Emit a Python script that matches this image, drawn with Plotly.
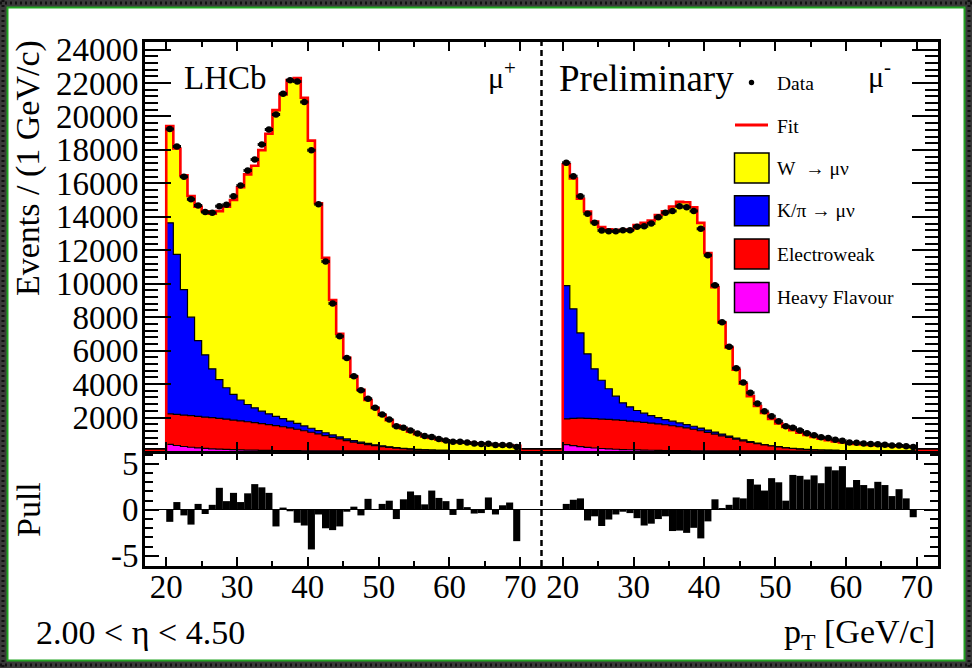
import plotly.graph_objects as go

# ---------------- data (1 GeV bins from 20 to 70 GeV/c) ----------------
bin_low = list(range(20, 70))
right_shift = 56  # right (mu-) panel drawn on the same axis, shifted

# mu+ panel
data_plus = [19250, 18200, 16400, 15050, 14680, 14280, 14250, 14630, 14720, 15230,
             15870, 16770, 17420, 18320, 19220, 20120, 21350, 22160, 22090, 20870,
             17980, 14750, 11330, 8820, 6860, 5560, 4470, 3630, 3120, 2580,
             2180, 1880, 1480, 1390, 1230, 1050, 890, 840, 724, 623,
             547, 552, 502, 454, 425, 429, 365, 359, 339, 246]
fit_plus = [19430, 18085, 16477, 15247, 14601, 14334, 14185, 14340, 14605, 15002,
            15763, 16537, 17050, 17989, 18964, 20375, 21313, 22182, 22298, 21116,
            18557, 14811, 11543, 9027, 7009, 5575, 4447, 3666, 3053, 2575,
            2150, 1837, 1518, 1347, 1160, 998, 872, 780, 690, 600,
            560, 525, 495, 462, 432, 402, 375, 350, 325, 305]
kpi_top_plus = [13640, 11750, 9650, 8000, 6600, 5750, 4910, 4270, 3780, 3380,
                3050, 2780, 2580, 2380, 2220, 2070, 1930, 1790, 1650, 1500,
                1360, 1220, 1090, 960, 840, 720, 620, 530, 450, 375,
                310, 250, 200, 160, 125, 97, 75, 58, 46, 36,
                28, 22, 17, 14, 11, 9, 7, 5, 4, 3]
ew_top_plus = [2220, 2190, 2150, 2110, 2070, 2030, 1990, 1950, 1900, 1850,
               1800, 1750, 1700, 1640, 1580, 1520, 1450, 1380, 1300, 1210,
               1120, 1020, 920, 820, 720, 620, 530, 450, 380, 320,
               265, 215, 175, 140, 110, 85, 65, 50, 40, 32,
               25, 20, 16, 13, 10, 8, 6, 5, 4, 3]
hf_plus = [400, 330, 270, 225, 185, 155, 130, 110, 92, 78,
           66, 56, 48, 41, 35, 30, 26, 22, 19, 16,
           14, 12, 10, 9, 8, 7, 6, 5, 4, 4,
           3, 3, 3, 2, 2, 2, 2, 2, 1, 1,
           1, 1, 1, 1, 1, 1, 1, 1, 1, 1]
pull_plus = [-1.3, 0.85, -0.6, -1.6, 0.65, -0.45, 0.55, 2.4, 0.95, 1.85,
             0.85, 1.8, 2.8, 2.45, 1.85, -1.8, 0.25, -0.15, -1.4, -1.7,
             -4.3, -0.5, -2.0, -2.2, -1.8, -0.2, 0.35, -0.6, 1.2, 0.1,
             0.65, 1.0, -1.0, 1.15, 2.0, 1.6, 0.6, 2.1, 1.3, 0.95,
             -0.55, 1.2, 0.3, -0.4, -0.35, 1.35, -0.5, 0.5, 0.8, -3.4]

# mu- panel
data_minus = [17230, 16430, 15230, 14180, 13640, 13180, 13140, 13140, 13200, 13200,
              13400, 13440, 13600, 13980, 14240, 14340, 14630, 14570, 14340, 13280,
              11700, 9910, 7700, 6230, 4950, 4100, 3480, 2840, 2380, 2080,
              1780, 1480, 1390, 1230, 1062, 949, 819, 770, 678, 612,
              513, 492, 449, 413, 402, 370, 328, 323, 291, 243]
fit_minus = [17145, 16289, 15076, 14317, 13722, 13381, 13260, 13197, 13223, 13240,
             13504, 13637, 13775, 14098, 14324, 14615, 14902, 14872, 14573, 13637,
             11835, 9796, 7682, 6187, 4855, 4020, 3282, 2693, 2278, 1923,
             1653, 1442, 1248, 1100, 960, 840, 740, 650, 575, 505,
             460, 425, 395, 368, 345, 322, 302, 285, 270, 256]
kpi_top_minus = [9890, 8500, 7060, 5810, 4910, 4230, 3720, 3280, 2880, 2640,
                 2420, 2260, 2120, 2000, 1880, 1780, 1680, 1580, 1480, 1370,
                 1250, 1130, 1010, 890, 770, 660, 560, 470, 390, 315,
                 258, 205, 162, 125, 98, 76, 60, 47, 37, 29,
                 23, 18, 14, 11, 9, 7, 5, 4, 3, 2]
ew_top_minus = [1920, 1950, 1970, 1950, 1930, 1910, 1890, 1860, 1830, 1790,
                1750, 1710, 1670, 1620, 1570, 1510, 1450, 1380, 1300, 1210,
                1110, 1010, 910, 810, 710, 610, 520, 440, 370, 300,
                240, 190, 150, 115, 90, 70, 55, 43, 34, 27,
                21, 17, 13, 10, 8, 6, 5, 4, 3, 2]
hf_minus = [380, 320, 265, 220, 180, 150, 125, 105, 88, 74,
            62, 52, 44, 37, 31, 26, 22, 18, 15, 12,
            10, 8, 7, 6, 5, 4, 3, 3, 2, 2,
            2, 2, 1, 1, 1, 1, 1, 1, 1, 1,
            1, 1, 1, 1, 1, 1, 1, 1, 1, 1]
pull_minus = [0.65, 1.1, 1.25, -1.15, -0.7, -1.75, -1.05, -0.5, -0.2, -0.35,
              -0.9, -1.7, -1.5, -1.0, -0.7, -2.3, -2.25, -2.5, -1.95, -3.1,
              -1.25, 1.15, 0.2, 0.55, 1.35, 1.25, 3.35, 2.75, 2.1, 3.45,
              3.0, 1.0, 3.8, 3.7, 3.3, 3.75, 2.9, 4.7, 4.3, 4.75,
              2.45, 3.25, 2.7, 2.35, 3.05, 2.7, 1.5, 2.25, 1.25, -0.8]

x_tick_labels = ["20", "30", "40", "50", "60", "70"]
y_main_ticks = [2000, 4000, 6000, 8000, 10000, 12000, 14000, 16000, 18000, 20000, 22000, 24000]
y_main_labels = [str(v) for v in y_main_ticks]
y_pull_ticks = [-5, 0, 5]
y_pull_labels = ["-5", "0", "5"]

# ---------------- colours / style ----------------
C_W, C_K, C_EW, C_HF = "#ffff00", "#0000ff", "#ff0000", "#ff00ff"
FONT = "Liberation Serif"

# plot-area pixel geometry
PL, PR, PT, PB = 145, 938, 42, 566
PW, PH = PR - PL, PB - PT
def px(x):
    return (x - PL) / PW
def py(y):
    return (PB - y) / PH
split = py(451)

fig = go.Figure()

def fill_step(vals, shift):
    xs = [20 + shift] + [b + shift for b in bin_low] + [70 + shift]
    ys = [0] + list(vals) + [0]
    return xs, ys

def fit_step(vals, shift):
    xs = [17 + shift] + [b + shift for b in bin_low] + [70 + shift, 73 + shift]
    ys = [0] + list(vals) + [0, 0]
    return xs, ys

panels = [
    (0, data_plus, fit_plus, kpi_top_plus, ew_top_plus, hf_plus, pull_plus),
    (right_shift, data_minus, fit_minus, kpi_top_minus, ew_top_minus, hf_minus, pull_minus),
]

for shift, dat, fit, kpi, ew, hf, pull in panels:
    for vals, col in [(fit, C_W), (kpi, C_K), (ew, C_EW), (hf, C_HF)]:
        xs, ys = fill_step(vals, shift)
        fig.add_trace(go.Scatter(x=xs, y=ys, mode="lines", line=dict(shape="hv", color="black", width=1.2),
                                 fill="tozeroy", fillcolor=col, xaxis="x2", yaxis="y", hoverinfo="skip"))
    xs, ys = fit_step(fit, shift)
    fig.add_trace(go.Scatter(x=xs, y=ys, mode="lines", line=dict(shape="hv", color="#ff0000", width=2.6),
                             xaxis="x2", yaxis="y", hoverinfo="skip"))
    centers = [b + 0.5 + shift for b in bin_low]
    fig.add_trace(go.Scatter(x=centers, y=dat, mode="markers",
                             marker=dict(size=6.5, color="black"),
                             error_x=dict(type="constant", value=0.5, color="black", thickness=1.2, width=1.5),
                             error_y=dict(type="sqrt", color="black", thickness=1.2, width=0),
                             xaxis="x2", yaxis="y", hoverinfo="skip"))
    fig.add_trace(go.Bar(x=centers, y=pull, width=1, marker=dict(color="black", line=dict(width=0)),
                         xaxis="x", yaxis="y2", hoverinfo="skip"))

x_major = [v for v in (20, 30, 40, 50, 60, 70)] + [v + right_shift for v in (20, 30, 40, 50, 60, 70)]
x_minor = [v for v in (25, 35, 45, 55, 65)] + [v + right_shift for v in (25, 35, 45, 55, 65)]
x_text = x_tick_labels + x_tick_labels

axis_common = dict(showline=True, linecolor="black", linewidth=3, mirror="ticks", ticks="inside",
                   tickcolor="black", tickwidth=2, showgrid=False, zeroline=False,
                   tickfont=dict(family=FONT, size=33, color="black"))

fig.update_layout(
    width=972, height=668, autosize=False,
    margin=dict(l=PL, r=972 - PR, t=PT, b=668 - PB, pad=0),
    paper_bgcolor="#3a3a3a", plot_bgcolor="white",
    showlegend=False, hovermode=False, barmode="overlay",
    xaxis=dict(axis_common, range=[17, 129], anchor="y2", domain=[0, 1],
               tickmode="array", tickvals=x_major, ticktext=x_text, ticklen=9,
               ticklabelstandoff=-11,
               minor=dict(tickmode="array", tickvals=x_minor, ticklen=5, ticks="inside",
                          tickcolor="black", tickwidth=2)),
    xaxis2=dict(axis_common, range=[17, 129], anchor="y", domain=[0, 1], matches="x",
                tickmode="array", tickvals=x_major, ticktext=x_text, ticklen=9, showticklabels=False,
                minor=dict(tickmode="array", tickvals=x_minor, ticklen=5, ticks="inside",
                           tickcolor="black", tickwidth=2)),
    yaxis=dict(axis_common, range=[0, 24450], domain=[split, 1], anchor="x2",
               tickmode="array", tickvals=y_main_ticks, ticktext=y_main_labels, ticklen=26,
               ticklabelstandoff=-3,
               minor=dict(tickmode="array", tickvals=[v for v in range(400, 24450, 400)],
                          ticklen=13, ticks="inside", tickcolor="black", tickwidth=2)),
    yaxis2=dict(axis_common, range=[-6.1, 6.4], domain=[0, split], anchor="x",
                tickmode="array", tickvals=y_pull_ticks, ticktext=y_pull_labels, ticklen=14,
                ticklabelstandoff=-3,
                zeroline=True, zerolinecolor="black", zerolinewidth=1,
                minor=dict(tickmode="array", tickvals=[-6, -4, -3, -2, -1, 1, 2, 3, 4, 6],
                           ticklen=8, ticks="inside", tickcolor="black", tickwidth=2)),
)

shapes = []
# canvas: white pad with green border, dotted dark frame around
shapes.append(dict(type="rect", xref="paper", yref="paper", x0=px(7.5), x1=px(964.5), y0=py(660.5), y1=py(7.5),
                   fillcolor="white", line=dict(color="#22a322", width=2), layer="below"))
for (xa, ya, xb, yb) in [(0, 3, 972, 3), (0, 665, 972, 665), (3, 0, 3, 668), (969, 0, 969, 668)]:
    shapes.append(dict(type="line", xref="paper", yref="paper", x0=px(xa), x1=px(xb), y0=py(ya), y1=py(yb),
                       line=dict(color="#111111", width=3, dash="2px,3px"), layer="below"))
# dashed separator
shapes.append(dict(type="line", xref="x", yref="paper", x0=73, x1=73, y0=0, y1=1,
                   line=dict(color="black", width=2.5, dash="6px,4px")))
# legend symbols
shapes.append(dict(type="circle", xref="paper", yref="paper", x0=px(748.8), x1=px(754.2), y0=py(85.2), y1=py(79.8),
                   fillcolor="black", line=dict(color="black", width=0)))
shapes.append(dict(type="line", xref="paper", yref="paper", x0=px(735), x1=px(768), y0=py(125), y1=py(125),
                   line=dict(color="#ff0000", width=3)))
for (col, yc) in [(C_W, 168), (C_K, 210.7), (C_EW, 254), (C_HF, 297.5)]:
    shapes.append(dict(type="rect", xref="paper", yref="paper", x0=px(734.5), x1=px(769), y0=py(yc + 15), y1=py(yc - 15),
                       fillcolor=col, line=dict(color="black", width=1.5)))
fig.update_layout(shapes=shapes)

ann = []
def text(t, x, y, size, xanchor="left", yanchor="middle", angle=0):
    ann.append(dict(text=t, x=px(x), y=py(y), xref="paper", yref="paper", showarrow=False,
                    xanchor=xanchor, yanchor=yanchor, textangle=angle,
                    font=dict(family=FONT, size=size, color="black")))

nb = "\u00a0"
text("LHCb", 182, 78, 33)
text("\u03bc<sup>+</sup>", 486, 75, 30)
text("Preliminary", 557, 79, 37)
text("\u03bc<sup>-</sup>", 866, 74, 30)
text("Data", 775, 84, 19.5)
text("Fit", 775, 126, 19.5)
text("W" + nb + nb + "\u2192" + nb + "\u03bc\u03bd", 775, 168, 19.5)
text("K/\u03c0" + nb + "\u2192" + nb + "\u03bc\u03bd", 775, 211, 19.5)
text("Electroweak", 775, 254, 19.5)
text("Heavy Flavour", 775, 297, 19.5)
text("Events / (1 GeV/c)", 28, 168, 34, xanchor="center", angle=-90)
text("Pull", 28, 510, 34, xanchor="center", angle=-90)
text("2.00 < \u03b7 < 4.50", 34, 632, 34)
text("p<sub>T</sub> [GeV/c]", 937, 634, 34, xanchor="right")
fig.update_layout(annotations=ann)

fig.write_html("out.html",
               config={"displayModeBar": False, "staticPlot": True},
               post_script="document.body.style.margin='0';document.body.style.padding='0';"
                           "document.body.style.background='#3a3a3a';")
